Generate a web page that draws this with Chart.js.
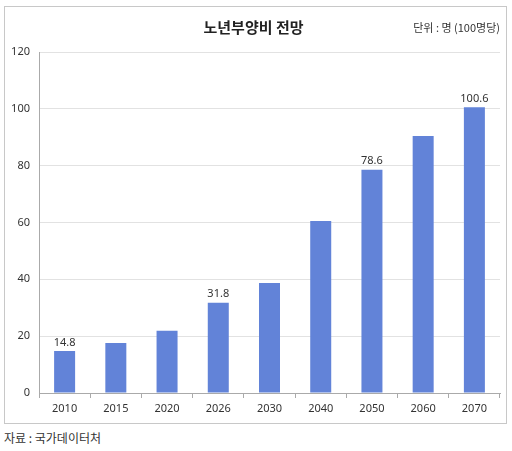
<!DOCTYPE html>
<html>
<head>
<meta charset="utf-8">
<script src="https://cdn.jsdelivr.net/npm/chart.js@4"></script>
<style>
  body { margin: 0; background: #fff; font-family: 'Noto Sans CJK KR', sans-serif; }
  #box { position: absolute; left: 4px; top: 6px; width: 501px; height: 416px; border: 1px solid #c8c8c8; }
  #wrap { position: absolute; left: 0; top: 0; width: 501px; height: 416px; }
  #title { position: absolute; left: 0; width: 501px; top: 9px; text-align: center; font-size: 15px; font-weight: bold; color: #222; padding-right: 4px; box-sizing: border-box; }
  #unit { position: absolute; right: 6px; top: 12px; font-size: 11px; color: #333; }
  #source { position: absolute; left: 4px; top: 429px; font-size: 12px; color: #333; }
</style>
</head>
<body>
<div id="box">
  <div id="wrap"><canvas id="chart"></canvas></div>
  <div id="title">노년부양비 전망</div>
  <div id="unit">단위 : 명 (100명당)</div>
</div>
<div id="source">자료 : 국가데이터처</div>
<script>
const years = ['2010', '2015', '2020', '2026', '2030', '2040', '2050', '2060', '2070'];
const ratio = [14.8, 17.6, 21.9, 31.8, 38.7, 60.5, 78.6, 90.4, 100.6];
const labelledYears = ['2010', '2026', '2050', '2070'];

const numFont = "'Noto Sans', 'Noto Sans CJK KR', sans-serif";

// draw value labels only on some bars
const valueLabels = {
  id: 'valueLabels',
  afterDatasetsDraw(chart) {
    const ctx = chart.ctx;
    const meta = chart.getDatasetMeta(0);
    ctx.save();
    ctx.font = '11px ' + numFont;
    ctx.fillStyle = '#333';
    ctx.textAlign = 'center';
    ctx.textBaseline = 'bottom';
    years.forEach((y, i) => {
      if (labelledYears.includes(y)) {
        const bar = meta.data[i];
        ctx.fillText(ratio[i].toFixed(1), bar.x, bar.y - 3);
      }
    });
    ctx.restore();
  }
};

new Chart(document.getElementById('chart'), {
  type: 'bar',
  data: {
    labels: years,
    datasets: [{
      data: ratio,
      backgroundColor: '#6283d8',
      barPercentage: 0.41,
      categoryPercentage: 1
    }]
  },
  options: {
    responsive: true,
    maintainAspectRatio: false,
    animation: false,
    layout: { padding: { top: 45, right: 6, bottom: 5, left: 0 } },
    plugins: {
      legend: { display: false },
      tooltip: { enabled: false }
    },
    scales: {
      x: {
        afterFit: s => { s.height = 25; },
        grid: { drawOnChartArea: false, tickLength: 5, color: '#aaa', offset: true },
        border: { color: '#aaa' },
        ticks: { color: '#333', font: { size: 11, family: numFont }, padding: 4 }
      },
      y: {
        min: 0,
        max: 120,
        afterFit: s => { s.width = 34; },
        ticks: { stepSize: 20, color: '#333', font: { size: 11, family: numFont }, padding: 9 },
        grid: { color: '#e2e2e2', drawTicks: false },
        border: { color: '#aaa' }
      }
    }
  },
  plugins: [valueLabels]
});
</script>
</body>
</html>
